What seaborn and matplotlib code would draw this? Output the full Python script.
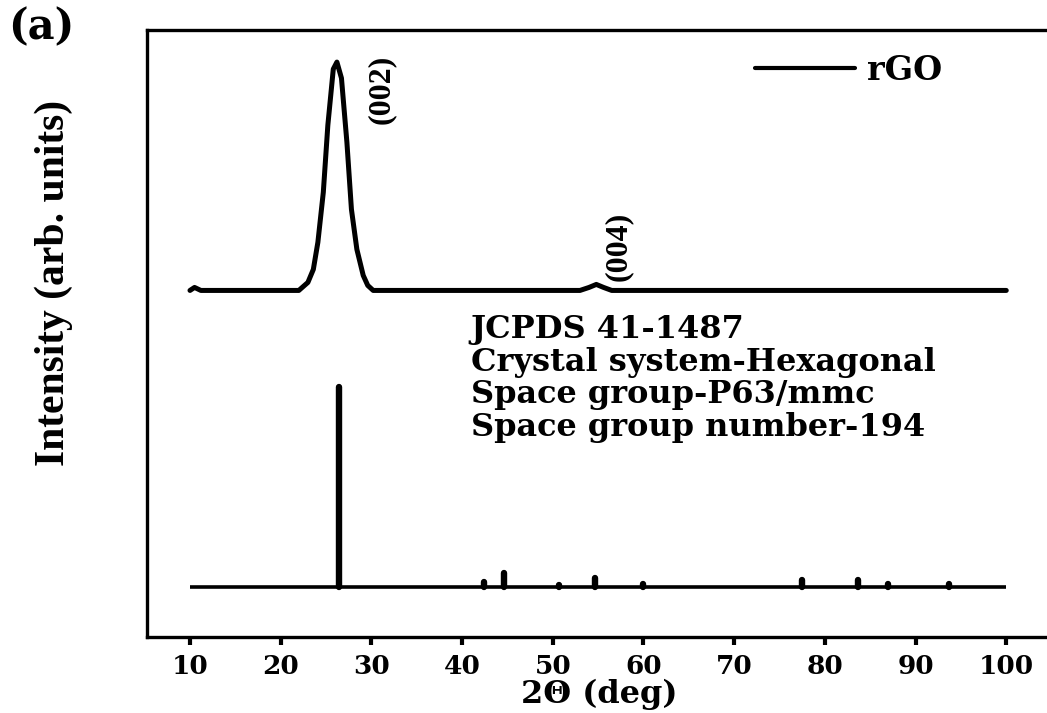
import numpy as np
import pandas as pd
import matplotlib
matplotlib.use('Agg')
import matplotlib.pyplot as plt
import seaborn as sns

# rGO pattern (2theta in deg, intensity above its own baseline, arb. units)
rgo_2theta = [10.0, 10.5, 11.2, 22.0, 23.0, 23.6, 24.1, 24.7, 25.2, 25.8, 26.2,
              26.7, 27.3, 27.8, 28.4, 29.1, 29.6, 30.2, 53.0, 54.0, 54.8, 55.6,
              56.5, 100.0]
rgo_intensity = [0, 3, 0, 0, 8, 21, 48, 98, 165, 221, 228,
                 212, 148, 81, 41, 15, 5, 0, 0, 3, 6, 3,
                 0, 0]

# JCPDS 41-1487 reference lines (relative intensity, %)
ref_2theta = [26.4, 42.4, 44.6, 50.7, 54.7, 59.9, 77.5, 83.6, 87.0, 93.7]
ref_intensity = [100, 2.3, 6.8, 1.2, 4.6, 1.4, 3.5, 3.5, 1.5, 1.5]

peak_labels = ['(002)', '(004)']
peak_label_2theta = [26.2, 54.8]

card_lines = ['JCPDS 41-1487', 'Crystal system-Hexagonal',
              'Space group-P63/mmc', 'Space group number-194']

RGO_OFFSET = 346
REF_OFFSET = 50
REF_SCALE = 2.0

sns.set_style('ticks')
plt.rcParams['font.family'] = ['DejaVu Serif']
plt.rcParams.update({'font.weight': 'bold', 'text.color': 'black',
                     'axes.labelcolor': 'black', 'xtick.color': 'black',
                     'axes.edgecolor': 'black'})

df_rgo = pd.DataFrame({'two_theta': rgo_2theta,
                       'intensity': np.array(rgo_intensity) + RGO_OFFSET})

fig = plt.figure(figsize=(10.47, 7.13), dpi=100)
ax = fig.add_axes([0.1404, 0.1066, 0.864, 0.8513])

# --- rGO pattern ---
sns.lineplot(data=df_rgo, x='two_theta', y='intensity', ax=ax, color='black',
             linewidth=3.6, label='rGO', solid_joinstyle='round')

# --- Reference stick pattern ---
ax.hlines(REF_OFFSET, rgo_2theta[0], rgo_2theta[-1], color='black', linewidth=2.6)
ax.vlines(ref_2theta, REF_OFFSET, REF_OFFSET + np.array(ref_intensity) * REF_SCALE,
          color='black', linewidth=4.6, capstyle='round')

# --- Peak labels ---
label_offsets = [(44, -27), (22, 38)]
peak_y = dict(zip(rgo_2theta, rgo_intensity))
for lbl, x, off in zip(peak_labels, peak_label_2theta, label_offsets):
    ax.annotate(lbl, (x, peak_y[x] + RGO_OFFSET), xytext=off, textcoords='offset pixels',
                rotation=90, ha='center', va='center', fontsize=23,
                family='Liberation Serif', fontweight='bold')

ax.text(0.358, 0.532, '\n'.join(card_lines), transform=ax.transAxes,
        fontsize=23, fontweight='bold', va='top', ha='left', linespacing=1.07)

ax.set_xlim(5.26, 105)
ax.set_ylim(0, 606)
ax.set_xticks(np.arange(10, 101, 10))
ax.set_yticks([])
ax.tick_params(axis='x', direction='out', length=6, width=3, labelsize=19, pad=6)
for lab in ax.get_xticklabels():
    lab.set_fontweight('bold')
for side in ['left', 'bottom', 'top']:
    ax.spines[side].set_linewidth(2.4)
ax.spines['right'].set_visible(False)

ax.set_xlabel('2\u0398 (deg)', fontsize=23, fontweight='bold', labelpad=0)
ax.set_ylabel('Intensity (arb. units)', fontsize=30, family='Liberation Serif',
              fontweight='bold')
ax.yaxis.set_label_coords(-0.082, 0.583)

leg = ax.legend(loc='upper right', bbox_to_anchor=(0.912, 1.01), frameon=False,
                handlelength=3.0, handletextpad=0.35, prop={'size': 24, 'weight': 'bold'})
for h in leg.legend_handles:
    h.set_linewidth(3)

fig.text(0.008, 0.962, '(a)', fontsize=30, fontweight='bold', va='center', ha='left')

fig.savefig('out.png', dpi=100)
